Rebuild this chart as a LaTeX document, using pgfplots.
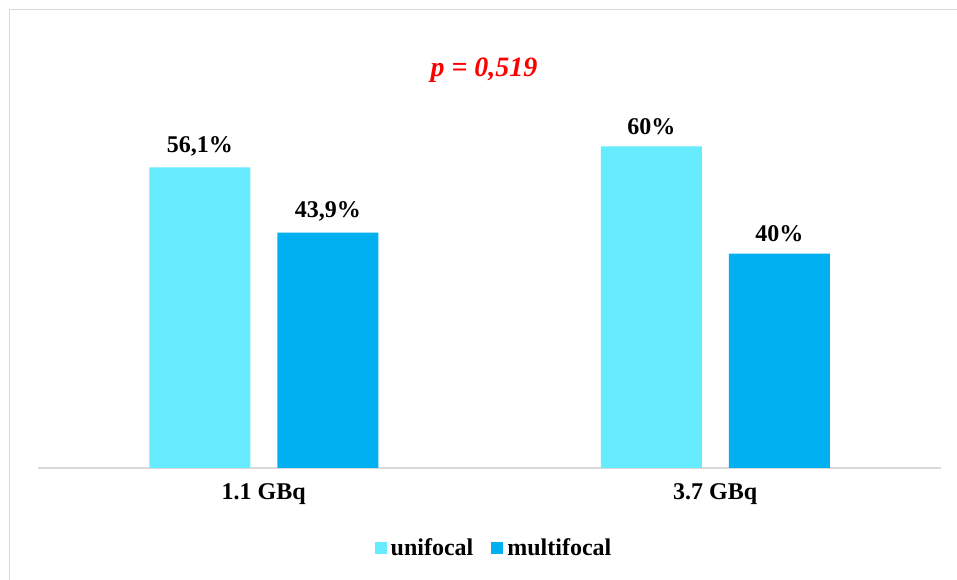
\documentclass[border=0pt]{standalone}
\usepackage{fontspec}
\setmainfont{Liberation Serif}
\usepackage{pgfplots}
\pgfplotsset{compat=1.18}
\definecolor{uni}{HTML}{66EBFF}
\definecolor{multi}{HTML}{00B0F0}
\definecolor{framegray}{HTML}{D9D9D9}
\begin{document}
\begin{tikzpicture}[x=1pt,y=1pt]
\useasboundingbox (0,0) rectangle (957,580);
\draw[framegray, line width=1.5pt] (9.5,0) -- (9.5,570.5) -- (957,570.5);
\node[text=red, font=\fontsize{28}{32}\selectfont\bfseries\itshape] at (484,510) {p = 0,519};
\begin{axis}[
  at={(38pt,112pt)}, anchor=south west,
  scale only axis, width=903pt, height=428.8pt,
  xmin=-0.5, xmax=1.5, ymin=0, ymax=80,
  hide y axis,
  axis x line*=bottom,
  x axis line style={framegray, line width=1.5pt, -},
  xtick={0,1}, xticklabels={1.1 GBq,3.7 GBq},
  major tick length=0pt,
  xticklabel style={font=\fontsize{24}{28}\selectfont\bfseries, yshift=-12pt},
  ybar=27pt, bar width=101pt,
  point meta=explicit symbolic,
  nodes near coords={\pgfplotspointmeta\%},
  every node near coord/.append style={font=\fontsize{24}{28}\selectfont\bfseries, black, yshift=8pt},
  clip=false,
  legend columns=2,
  legend style={at={(0.505,-0.1866)}, anchor=center, draw=none, fill=none,
    font=\fontsize{24}{28}\selectfont\bfseries,
    /tikz/every even column/.append style={column sep=16pt},
    /tikz/every odd column/.append style={column sep=2pt}},
  legend image code/.code={\fill[#1] (0pt,-5.5pt) rectangle (12pt,6pt);},
]
\addplot[fill=uni, draw=none] coordinates {(0,56.1)[56,1] (1,60)[60]};
\addplot[fill=multi, draw=none] coordinates {(0,43.9)[43,9] (1,40)[40]};
\legend{unifocal, multifocal}
\end{axis}
\end{tikzpicture}
\end{document}
